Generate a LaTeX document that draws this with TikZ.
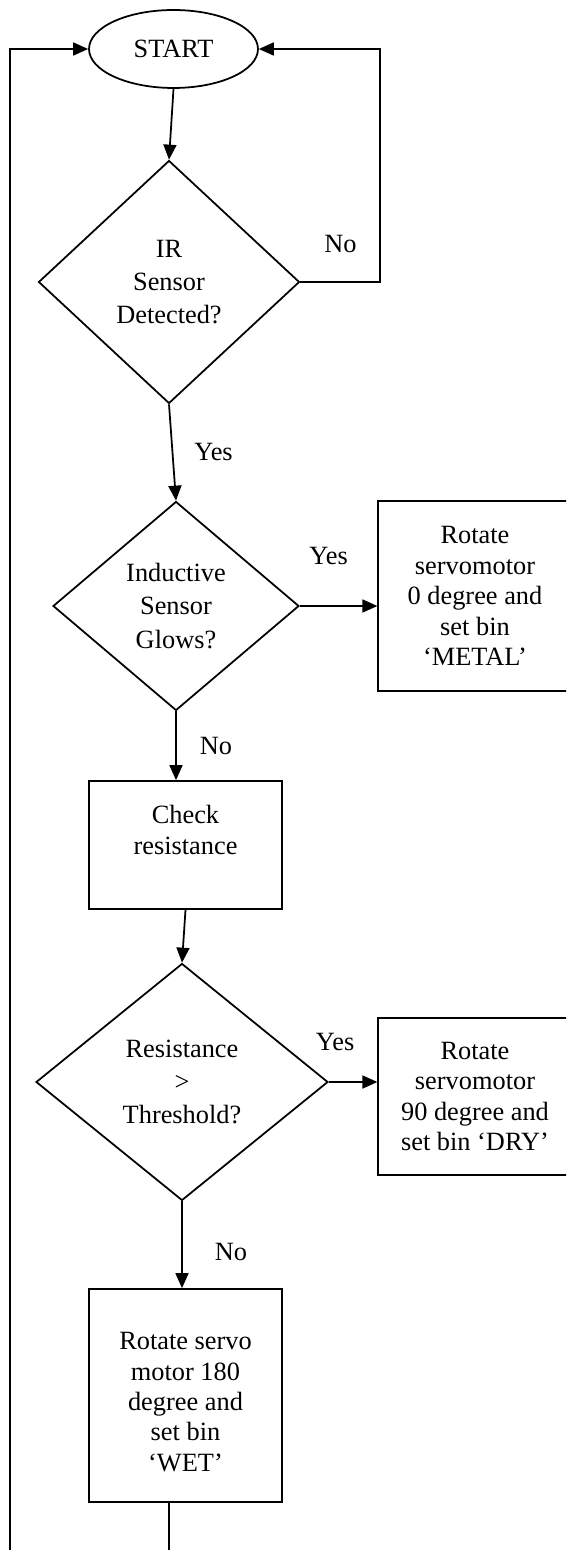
\documentclass[tikz,border=0pt]{standalone}
\usepackage{fontspec}
\setmainfont{Liberation Serif}
\usetikzlibrary{shapes.geometric,arrows.meta,positioning}

\begin{document}
\begin{tikzpicture}[
    x=0.02cm, y=-0.02cm, line width=1pt,
    txt/.style={font=\fontsize{15}{17.3}\selectfont, align=center},
    box/.style={draw, txt, inner sep=0pt, minimum width=3.87cm},
    dec/.style={draw, diamond, inner sep=0pt, align=center,
                font=\fontsize{15}{19}\selectfont},
    lbl/.style={inner sep=0pt, font=\fontsize{15}{17.3}\selectfont},
    arr/.style={-{Triangle[length=0.3cm, width=0.26cm]}}
]
    \useasboundingbox (0,0) rectangle (566,1550);
    \clip (0,0) rectangle (566,1550);
    \node[draw, ellipse, txt, minimum width=3.38cm, minimum height=1.56cm] (start) at (173.5,49) {START};
    \node[dec, minimum width=5.22cm, minimum height=4.86cm] (ir)  at (169,282)  {IR\\Sensor\\Detected?};
    \node[dec, minimum width=4.92cm, minimum height=4.18cm] (ind) at (176,606)  {Inductive\\Sensor\\Glows?};
    \node[box, minimum height=3.8cm]  (metal) at (475,596)  {Rotate\\servomotor\\0 degree and\\set bin\\‘METAL’};
    \node[box, minimum height=2.56cm] (chk)   at (185.5,845) {Check\\resistance\\~};
    \node[dec, minimum width=5.84cm, minimum height=4.74cm] (res) at (182,1082) {Resistance\\>\\Threshold?};
    \node[box, minimum height=3.14cm] (dry)   at (475,1096.5) {Rotate\\servomotor\\90 degree and\\set bin ‘DRY’};
    \node[box, minimum height=4.26cm] (wet)   at (185.5,1395.5) {~\\Rotate servo\\motor 180\\degree and\\set bin\\‘WET’};
    \coordinate (back) at (10,1560);

    \draw[arr] (start.south) -- (ir.north);
    \draw[arr] (ir.east) -- node[lbl, above=0.57cm]{No} ++(80,0) |- (start.east);
    \draw[arr] (ir.south) -- node[lbl, right=0.42cm]{Yes} (ind.north);
    \draw[arr] (ind.east) -- node[lbl, above=0.8cm, xshift=-0.2cm]{Yes} (ind.east -| metal.west);
    \draw[arr] (ind.south) -- node[lbl, right=0.46cm]{No} (ind.south |- chk.north);
    \draw[arr] (chk.south) -- (res.north);
    \draw[arr] (res.east) -- node[lbl, above=0.6cm, xshift=-0.36cm]{Yes} (res.east -| dry.west);
    \draw[arr] (res.south) -- node[lbl, right=0.64cm, pos=0.58]{No} (res.south |- wet.north);
    \draw[arr] ([xshift=-0.33cm]wet.south) |- (back) |- (start.west);
\end{tikzpicture}
\end{document}
